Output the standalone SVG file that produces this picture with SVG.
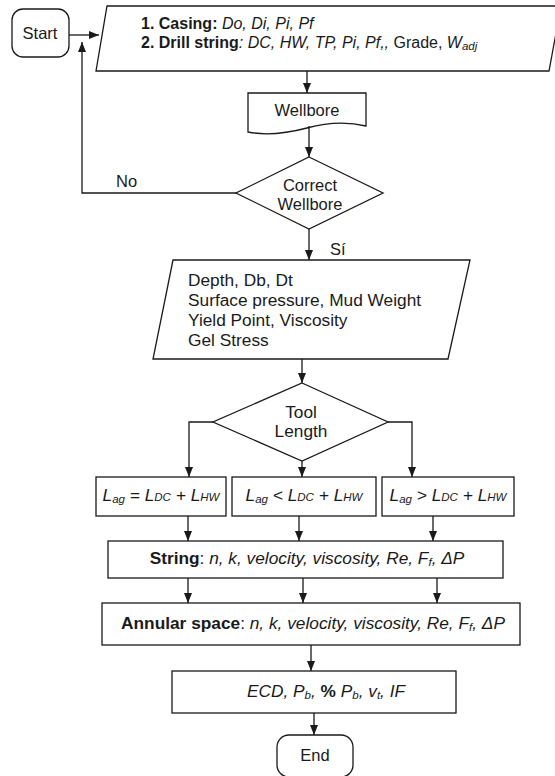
<svg xmlns="http://www.w3.org/2000/svg" width="555" height="776" viewBox="0 0 555 776">
<style>
.shape{fill:#fff;stroke:#1a1a1a;stroke-width:1.3}
.conn path{fill:none;stroke:#1a1a1a;stroke-width:1.3;marker-end:url(#ah)}
text{font-family:"Liberation Sans",Arial,sans-serif;fill:#1a1a1a}
.t0{font-size:16px}
.t1{font-size:16.5px}
.t2{font-size:17.3px}
.b{font-weight:bold}
.i{font-style:italic}
.s{font-size:11.5px}
</style>
<defs>
<marker id="ah" viewBox="0 0 10 10" refX="10" refY="5" markerWidth="10" markerHeight="10" markerUnits="userSpaceOnUse" orient="auto">
<path d="M0,1 L10,5 L0,9 Z" fill="#1a1a1a"/>
</marker>
</defs>
<rect width="555" height="776" fill="#fff"/>

<g id="start">
<rect class="shape" x="12" y="9" width="57" height="48" rx="11"/>
<text class="t1" x="40" y="39" text-anchor="middle">Start</text>
</g>

<g id="input1">
<polygon class="shape" points="107,6 561,6 549,71 96,71"/>
<text class="t0" x="141" y="29"><tspan class="b">1. Casing:</tspan><tspan class="i"> Do, Di, Pi, Pf</tspan></text>
<text class="t0" x="141" y="48"><tspan class="b">2. Drill string</tspan><tspan class="i">: DC, HW, TP, Pi, Pf,,</tspan> Grade, <tspan class="i">W</tspan><tspan class="i s" dy="2">adj</tspan></text>
</g>

<g id="wellbore">
<path class="shape" d="M248,93 H366 V126 C345,121 325,123 307,128 C288,133 268,136 248,132 Z"/>
<text class="t1" x="307" y="116" text-anchor="middle">Wellbore</text>
</g>

<g id="correct">
<polygon class="shape" points="309,157 383,193 309,229 236,193"/>
<text class="t1" x="310" y="191" text-anchor="middle">Correct</text>
<text class="t1" x="310" y="210" text-anchor="middle">Wellbore</text>
</g>

<g id="input2">
<polygon class="shape" points="173,260 470,260 448,359 153,359"/>
<text class="t2" x="188" y="286">Depth, Db, Dt</text>
<text class="t2" x="188" y="306">Surface pressure, Mud Weight</text>
<text class="t2" x="188" y="326">Yield Point, Viscosity</text>
<text class="t2" x="188" y="346">Gel Stress</text>
</g>

<g id="tool">
<polygon class="shape" points="302,383 388,422 302,461 213,422"/>
<text class="t2" x="301" y="418" text-anchor="middle">Tool</text>
<text class="t2" x="301" y="437" text-anchor="middle">Length</text>
</g>

<g id="case1">
<rect class="shape" x="96" y="477" width="130" height="39"/>
<text class="t2 i" x="161" y="501" text-anchor="middle">L<tspan class="s" dy="2">ag</tspan><tspan dy="-2"> = L</tspan><tspan class="s">DC</tspan> + L<tspan class="s">HW</tspan></text>
</g>
<g id="case2">
<rect class="shape" x="232" y="477" width="144" height="39"/>
<text class="t2 i" x="304" y="501" text-anchor="middle">L<tspan class="s" dy="2">ag</tspan><tspan dy="-2"> &lt; L</tspan><tspan class="s">DC</tspan> + L<tspan class="s">HW</tspan></text>
</g>
<g id="case3">
<rect class="shape" x="382" y="477" width="132" height="39"/>
<text class="t2 i" x="448" y="501" text-anchor="middle">L<tspan class="s" dy="2">ag</tspan><tspan dy="-2"> &gt; L</tspan><tspan class="s">DC</tspan> + L<tspan class="s">HW</tspan></text>
</g>

<g id="string">
<rect class="shape" x="108" y="541" width="395" height="37"/>
<text class="t2" x="307" y="564" text-anchor="middle"><tspan class="b">String</tspan>: <tspan class="i">n, k, velocity, viscosity, Re, F</tspan><tspan class="i s" dy="2">f</tspan><tspan class="i" dy="-2">, ΔP</tspan></text>
</g>

<g id="annular">
<rect class="shape" x="102" y="603" width="418" height="42"/>
<text class="t2" x="313" y="629" text-anchor="middle"><tspan class="b">Annular space</tspan>: <tspan class="i">n, k, velocity, viscosity, Re, F</tspan><tspan class="i s" dy="2">f</tspan><tspan class="i" dy="-2">, ΔP</tspan></text>
</g>

<g id="results">
<rect class="shape" x="172" y="671" width="284" height="42"/>
<text class="t2 i" x="326" y="697" text-anchor="middle">ECD, P<tspan class="s" dy="2">b</tspan><tspan dy="-2">, </tspan><tspan class="b" font-style="normal">%</tspan> P<tspan class="s" dy="2">b</tspan><tspan dy="-2">, v</tspan><tspan class="s" dy="2">t</tspan><tspan dy="-2">, IF</tspan></text>
</g>

<g id="end">
<rect class="shape" x="277" y="735" width="76" height="42" rx="12"/>
<text class="t1" x="315" y="761" text-anchor="middle">End</text>
</g>

<g id="labels">
<text class="t1" x="116" y="187">No</text>
<text class="t1" x="330" y="255">Sí</text>
</g>

<g class="conn" id="connectors">
<path d="M69,35 H99"/>
<path d="M236,193 H82 V42"/>
<path d="M307,71 V93"/>
<path d="M309,126 V157"/>
<path d="M309,229 V260"/>
<path d="M302,359 V383"/>
<path d="M213,422 H189 V477"/>
<path d="M302,461 V477"/>
<path d="M388,422 H412 V477"/>
<path d="M188,516 V541"/>
<path d="M299,516 V541"/>
<path d="M433,516 V541"/>
<path d="M188,578 V603"/>
<path d="M303,578 V603"/>
<path d="M437,578 V603"/>
<path d="M311,645 V671"/>
<path d="M314,713 V735"/>
</g>
</svg>
